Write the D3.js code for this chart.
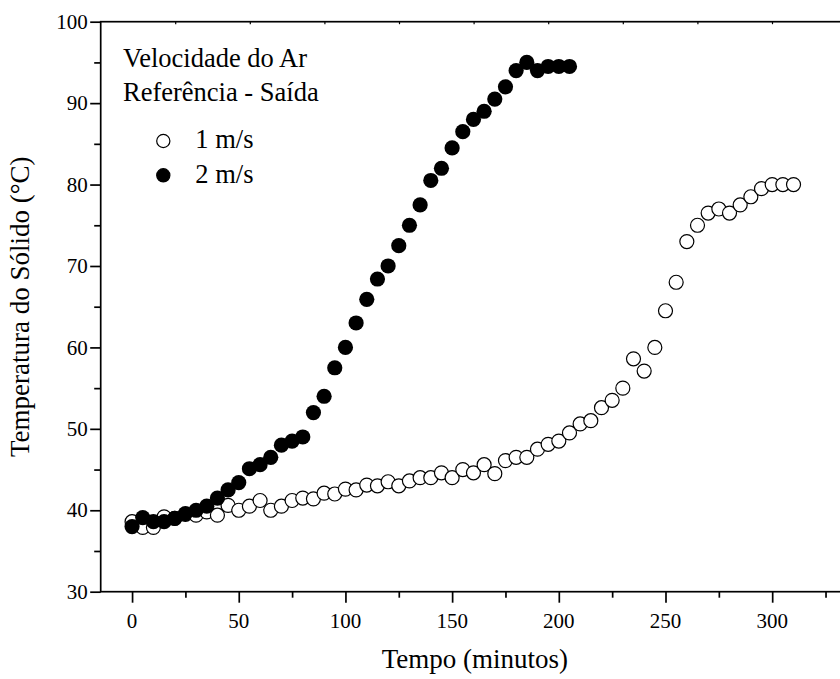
<!DOCTYPE html>
<html>
<head>
<meta charset="utf-8">
<script src="https://cdn.jsdelivr.net/npm/d3@7"></script>
<style>
  body { margin: 0; background: #fff; }
  svg { display: block; }
  text { font-family: "Liberation Serif", "Times New Roman", serif; fill: #000; }
</style>
</head>
<body>
<div id="chart"></div>
<script>
// Temperatura do solido, medida a cada 5 minutos
var time1 = [0,5,10,15,20,25,30,35,40,45,50,55,60,65,70,75,80,85,90,95,100,105,110,115,120,125,130,135,140,145,150,
  155,160,165,170,175,180,185,190,195,200,205,210,215,220,225,230,235,240,245,250,255,260,265,270,275,280,285,290,295,300,305,310];
var temp1 = [38.6,37.9,37.9,39.2,39.0,39.5,39.4,39.8,39.4,40.6,40.0,40.5,41.2,40.0,40.5,41.2,41.5,41.4,42.1,42.0,42.6,
  42.5,43.1,43.0,43.5,43.0,43.6,44.0,44.0,44.6,44.0,45.0,44.6,45.6,44.5,46.1,46.5,46.5,47.5,48.1,48.5,49.5,50.6,51.0,
  52.6,53.5,55.0,58.6,57.1,60.0,64.5,68.0,73.0,75.0,76.5,77.0,76.5,77.5,78.5,79.5,80.0,80.0,80.0];

var time2 = [0,5,10,15,20,25,30,35,40,45,50,55,60,65,70,75,80,85,90,95,100,105,110,115,120,125,130,135,140,145,150,
  155,160,165,170,175,180,185,190,195,200,205];
var temp2 = [38.0,39.1,38.6,38.6,39.0,39.6,40.0,40.5,41.5,42.5,43.4,45.1,45.6,46.5,48.0,48.5,49.0,52.0,54.0,57.5,60.0,
  63.0,65.9,68.4,70.0,72.5,75.0,77.5,80.5,82.0,84.5,86.5,88.0,89.0,90.5,92.0,94.0,95.0,94.0,94.5,94.5,94.5];

var xTicks = [0,50,100,150,200,250,300];
var yTicks = [30,40,50,60,70,80,90,100];
var legendLabels = ['1 m/s','2 m/s'];
var titleLines = ['Velocidade do Ar','Referência - Saída'];

var width = 840, height = 679;
var margin = {top:21.7, left:100.7, bottom:87.3, right:-9};

var svg = d3.select('#chart').append('svg')
  .attr('width', width)
  .attr('height', height);

var x = d3.scaleLinear().domain([-14.7, 336]).range([margin.left, width - margin.right]);
var y = d3.scaleLinear().domain([30, 100]).range([height - margin.bottom, margin.top]);
// top frame has its own small ticks, unlabelled
var xTop = d3.scaleLinear().domain([0, 10]).range([margin.left + 0.4, margin.left + 0.4 + 746]);

var axisW = 1.7;

// x axis (bottom)
var gx = svg.append('g').attr('transform', 'translate(0,' + y(30) + ')');
gx.call(d3.axisBottom(x).tickValues(d3.range(0, 340, 25)).tickSize(6).tickFormat(''));
gx.call(function(g){
  g.selectAll('.tick').filter(function(d){ return d % 50 === 0; }).select('line').attr('y2', 11);
});
gx.select('.domain').remove();
gx.selectAll('line').attr('stroke', '#000').attr('stroke-width', axisW);
gx.selectAll('text.lbl').data(xTicks).enter().append('text')
  .attr('class','lbl')
  .attr('x', function(d){ return x(d); })
  .attr('y', 36.5)
  .attr('text-anchor','middle')
  .style('font-size','21px')
  .text(function(d){ return d; });

// y axis (left)
var gy = svg.append('g').attr('transform', 'translate(' + margin.left + ',0)');
gy.call(d3.axisLeft(y).tickValues(d3.range(30, 101, 5)).tickSize(6.5).tickFormat(''));
gy.call(function(g){
  g.selectAll('.tick').filter(function(d){ return d % 10 === 0; }).select('line').attr('x2', -10.5);
});
gy.select('.domain').remove();
gy.selectAll('line').attr('stroke', '#000').attr('stroke-width', axisW);
gy.selectAll('text.lbl').data(yTicks).enter().append('text')
  .attr('class','lbl')
  .attr('x', -13)
  .attr('y', function(d){ return y(d); })
  .attr('dy', '0.34em')
  .attr('text-anchor','end')
  .style('font-size','21px')
  .text(function(d){ return d; });

// top frame ticks
svg.append('g').selectAll('line').data(d3.range(1, 10)).enter().append('line')
  .attr('x1', function(d){ return xTop(d); })
  .attr('x2', function(d){ return xTop(d); })
  .attr('y1', y(100))
  .attr('y2', y(100) + 2.5)
  .attr('stroke', '#000')
  .attr('stroke-width', 1.2);

// frame
svg.append('rect')
  .attr('x', x.range()[0])
  .attr('y', y(100))
  .attr('width', x.range()[1] - x.range()[0])
  .attr('height', y(30) - y(100))
  .attr('fill','none')
  .attr('stroke','#000')
  .attr('stroke-width', axisW);

// axis titles
svg.append('text')
  .attr('x', (x.range()[0] + x.range()[1]) / 2)
  .attr('y', 668)
  .attr('text-anchor','middle')
  .style('font-size','27px')
  .text('Tempo (minutos)');

svg.append('text')
  .attr('transform', 'translate(29,' + ((y(30) + y(100)) / 2) + ') rotate(-90)')
  .attr('text-anchor','middle')
  .style('font-size','27px')
  .text('Temperatura do Sólido (°C)');

// dots: 1 m/s open, 2 m/s filled
var r = 7;
svg.append('g').selectAll('circle').data(time1).enter().append('circle')
  .attr('cx', function(d){ return x(d); })
  .attr('cy', function(d,i){ return y(temp1[i]); })
  .attr('r', r)
  .attr('fill','#fff')
  .attr('stroke','#000')
  .attr('stroke-width', 1.2);

svg.append('g').selectAll('circle').data(time2).enter().append('circle')
  .attr('cx', function(d){ return x(d); })
  .attr('cy', function(d,i){ return y(temp2[i]); })
  .attr('r', r + 0.6)
  .attr('fill','#000');

// title and legend
svg.append('g').selectAll('text').data(titleLines).enter().append('text')
  .attr('x', 123)
  .attr('y', function(d,i){ return 66.7 + i*34; })
  .style('font-size','26.5px')
  .text(function(d){ return d; });

var leg = svg.append('g').selectAll('g').data(legendLabels).enter().append('g')
  .attr('transform', function(d,i){ return 'translate(163.3,' + (141 + i*34.3) + ')'; });
leg.append('circle')
  .attr('r', 6.6)
  .attr('fill', function(d,i){ return i === 0 ? '#fff' : '#000'; })
  .attr('stroke', '#000')
  .attr('stroke-width', 1.2);
leg.append('text')
  .attr('x', 32)
  .attr('y', 7.4)
  .style('font-size','26.5px')
  .text(function(d){ return d; });
</script>
</body>
</html>
